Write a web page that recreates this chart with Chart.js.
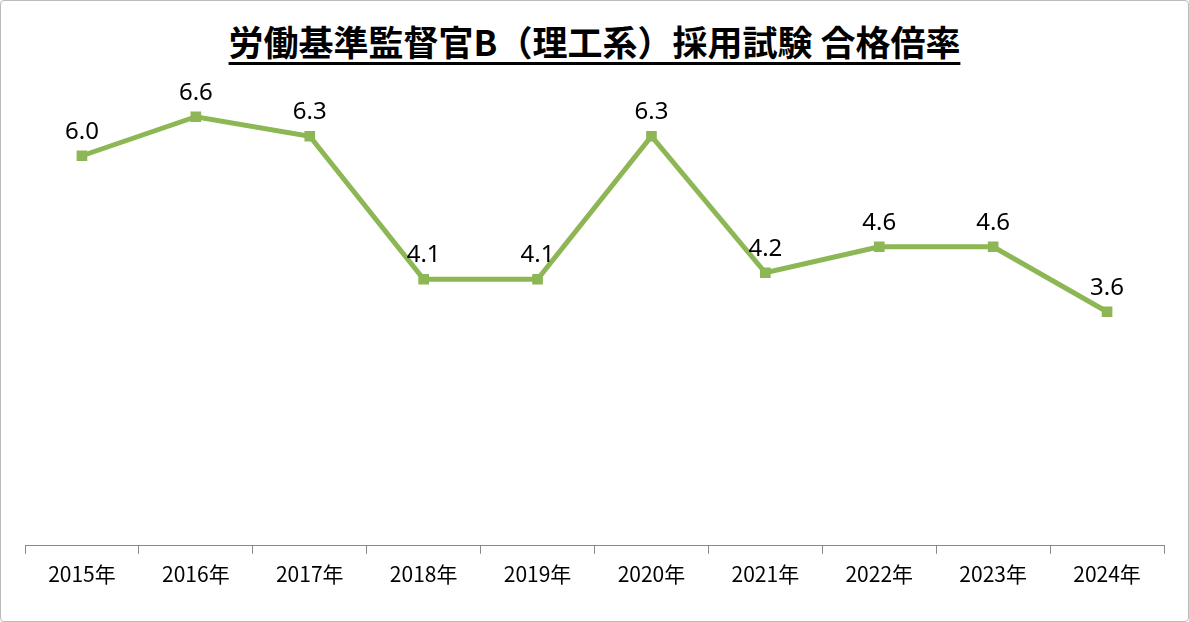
<!DOCTYPE html>
<html><head><meta charset="utf-8">
<script src="https://cdn.jsdelivr.net/npm/chart.js@4"></script>
<style>
body{margin:0;background:#fff;font-family:"Noto Sans CJK JP","Noto Sans",sans-serif;}
#wrap{position:relative;width:1187px;height:620px;border:1px solid #bbb;border-radius:4px;}
#title{position:absolute;top:14px;left:0;width:100%;text-align:center;font-size:35px;font-weight:bold;text-decoration:underline;text-underline-offset:6px;color:#000;}
canvas{position:absolute;left:0;top:0;}
</style></head>
<body>
<div id="wrap">
<div id="title">労働基準監督官B（理工系）採用試験 合格倍率</div>
<canvas id="c" width="1187" height="620"></canvas>
</div>
<script>
const years = ['2015年','2016年','2017年','2018年','2019年','2020年','2021年','2022年','2023年','2024年'];
const ratios = [6.0, 6.6, 6.3, 4.1, 4.1, 6.3, 4.2, 4.6, 4.6, 3.6];

// draw value labels above each point
const valueLabels = {
    id: 'valueLabels',
    afterDatasetsDraw(chart) {
        const ctx = chart.ctx;
        const meta = chart.getDatasetMeta(0);
        ctx.save();
        ctx.font = '24px "Noto Sans", sans-serif';
        ctx.fillStyle = '#000';
        ctx.textAlign = 'center';
        ctx.textBaseline = 'bottom';
        meta.data.forEach((pt, i) => {
            ctx.fillText(ratios[i].toFixed(1), pt.x, pt.y - 12);
        });
        ctx.restore();
    }
};

new Chart(document.getElementById('c'), {
    type: 'line',
    data: {
        labels: years,
        datasets: [{
            data: ratios,
            borderColor: '#8db654',
            backgroundColor: '#8db654',
            borderWidth: 5,
            pointStyle: 'rect',
            pointRadius: 4,
            tension: 0
        }]
    },
    options: {
        responsive: false,
        animation: false,
        layout: { padding: { left: 24, right: 24, top: 80, bottom: 26 } },
        plugins: { legend: { display: false }, tooltip: { enabled: false } },
        scales: {
            x: {
                offset: true,
                grid: { offset: true, drawOnChartArea: false, tickLength: 8, color: '#888' },
                border: { color: '#888' },
                ticks: { font: { size: 21, family: '"Noto Sans CJK JP", sans-serif' }, color: '#000', padding: 8 }
            },
            y: { display: false, min: 0, max: 7.15 }
        }
    },
    plugins: [valueLabels]
});
</script>
</body></html>
